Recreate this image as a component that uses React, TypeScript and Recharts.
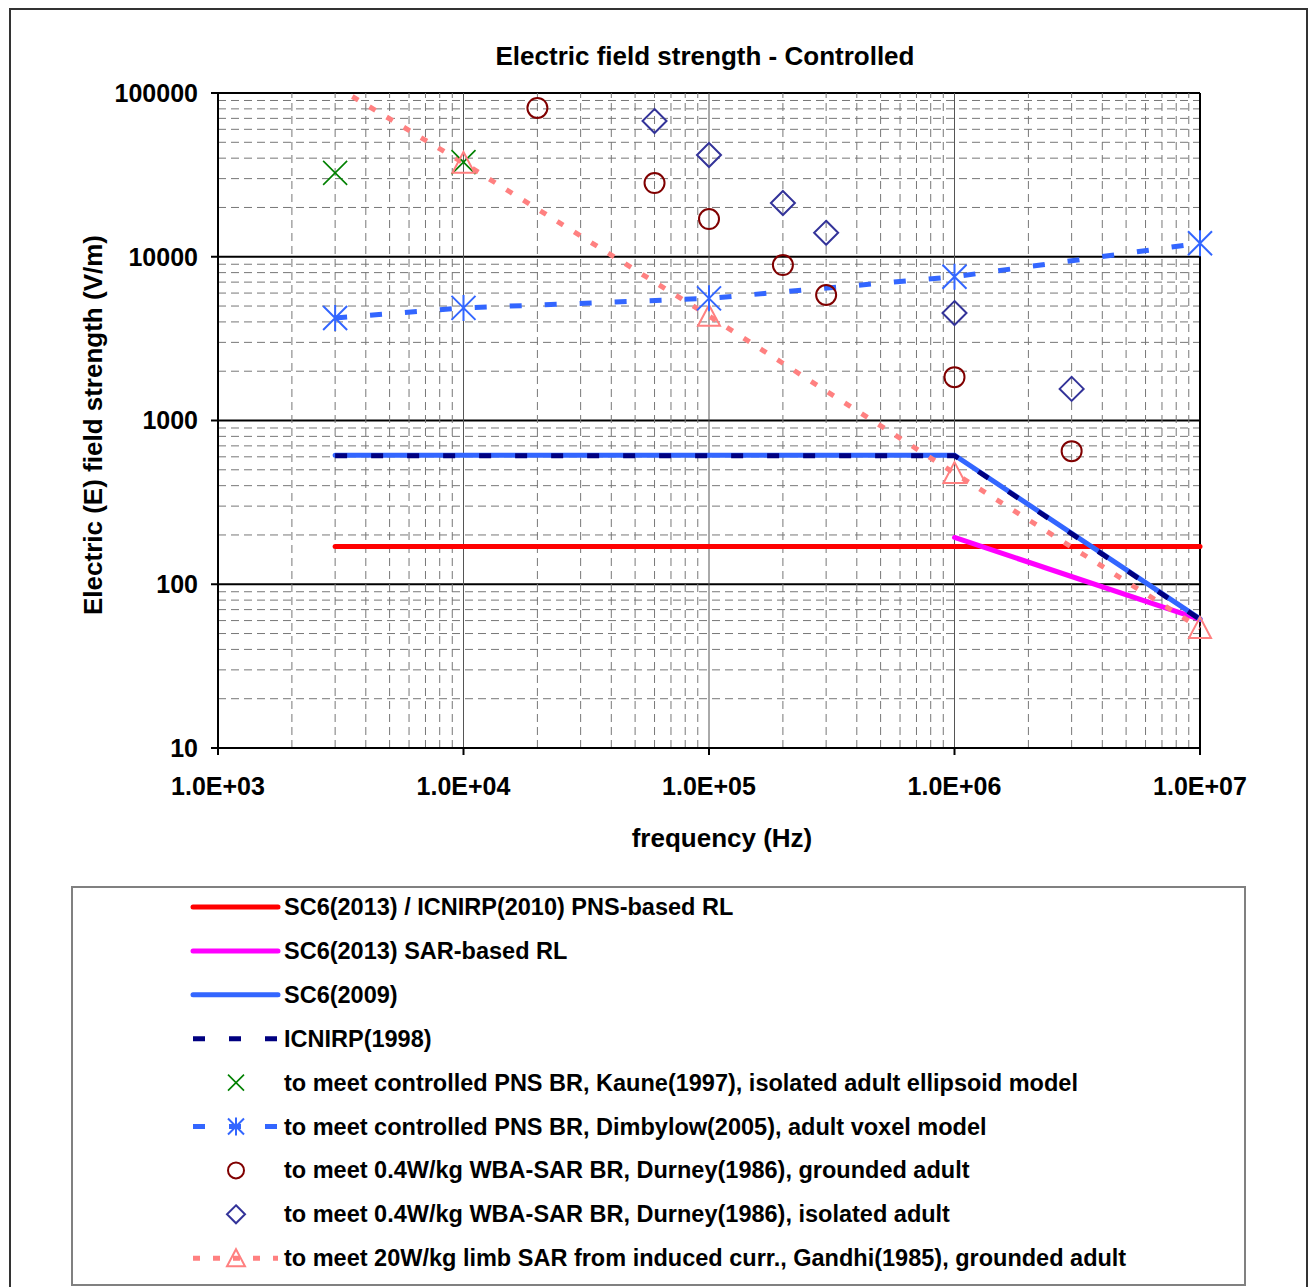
import React from 'react';
import {
  ComposedChart,
  Line,
  Scatter,
  XAxis,
  YAxis,
  CartesianGrid,
  ReferenceLine,
  Legend,
} from 'recharts';

// ---------- data ----------
const pnsFreq = [3000, 1e7];
const pnsE = [170, 170];

const sarFreq = [1e6, 1e7];
const sarE = [193, 61];

const sc6Freq = [3000, 1e6, 1e7];
const sc6E = [614, 614, 61.4];

const icnirpFreq = [3000, 1e6, 1e7];
const icnirpE = [610, 610, 61];

const kauneFreq = [3000, 10000];
const kauneE = [32500, 37800];

const dimbylowFreq = [3000, 1e4, 1e5, 1e6, 1e7];
const dimbylowE = [4230, 4870, 5570, 7550, 12100];

const durneyGroundFreq = [2e4, 6e4, 1e5, 2e5, 3e5, 1e6, 3e6];
const durneyGroundE = [81000, 28200, 17000, 8900, 5840, 1840, 650];

const durneyIsoFreq = [6e4, 1e5, 2e5, 3e5, 1e6, 3e6];
const durneyIsoE = [67400, 41800, 21300, 14000, 4530, 1560];

const gandhiFreq = [3000, 1e4, 1e5, 1e6, 1e7];
const gandhiE = [110000, 37400, 4350, 477, 54];

const xTicks = [1e3, 1e4, 1e5, 1e6, 1e7];
const xTickLabels = ['1.0E+03', '1.0E+04', '1.0E+05', '1.0E+06', '1.0E+07'];
const yTicks = [10, 100, 1000, 10000, 100000];
const yTickLabels = ['10', '100', '1000', '10000', '100000'];

const minorMult = [2, 3, 4, 5, 6, 7, 8, 9];
const xDecades = [1e3, 1e4, 1e5, 1e6];
const yDecades = [10, 100, 1000, 10000];
const xMajorInner = [1e4, 1e5, 1e6];

const legendLabels = [
  'SC6(2013) / ICNIRP(2010) PNS-based RL',
  'SC6(2013) SAR-based RL',
  'SC6(2009)',
  'ICNIRP(1998)',
  'to meet controlled PNS BR, Kaune(1997), isolated adult ellipsoid model',
  'to meet controlled PNS BR, Dimbylow(2005), adult voxel model',
  'to meet 0.4W/kg WBA-SAR BR, Durney(1986), grounded adult',
  'to meet 0.4W/kg WBA-SAR BR, Durney(1986), isolated adult',
  'to meet 20W/kg limb SAR from induced curr., Gandhi(1985), grounded adult',
];

// ---------- helpers ----------
const Y_MIN = 10;
const Y_MAX = 100000;
const zip = (f: number[], e: number[]) => f.map((v, i) => ({ f: v, e: e[i] }));
const xMinor = xDecades.flatMap((d) => minorMult.map((m) => m * d));
const yMinor = yDecades.flatMap((d) => minorMult.map((m) => m * d));
const gandhiData = zip(gandhiFreq, gandhiE);
const gandhiVisible = gandhiData.filter((d) => d.e <= Y_MAX && d.e >= Y_MIN);

const C = {
  red: '#FF0000',
  magenta: '#FF00FF',
  blue: '#3366FF',
  navy: '#000080',
  green: '#008000',
  darkred: '#800000',
  diamond: '#333399',
  pink: '#FF8080',
};

const FONT = '"Liberation Sans", Arial, sans-serif';

// ---------- markers ----------
const XMark = ({ cx, cy, r = 12 }: any) => (
  <path
    d={`M${cx - r},${cy - r}L${cx + r},${cy + r}M${cx - r},${cy + r}L${cx + r},${cy - r}`}
    stroke={C.green}
    strokeWidth={1.6}
    fill="none"
  />
);
const Asterisk = ({ cx, cy, r = 12 }: any) => (
  <path
    d={`M${cx - r},${cy - r}L${cx + r},${cy + r}M${cx - r},${cy + r}L${cx + r},${cy - r}M${cx},${cy - r - 1}L${cx},${cy + r + 1}`}
    stroke={C.blue}
    strokeWidth={2}
    fill="none"
  />
);
const CircleMark = ({ cx, cy, r = 10 }: any) => (
  <circle cx={cx} cy={cy} r={r} stroke={C.darkred} strokeWidth={2} fill="none" />
);
const DiamondMark = ({ cx, cy, r = 12 }: any) => (
  <path
    d={`M${cx},${cy - r}L${cx + r},${cy}L${cx},${cy + r}L${cx - r},${cy}Z`}
    stroke={C.diamond}
    strokeWidth={2}
    fill="none"
  />
);
const TriangleMark = ({ cx, cy, r = 11 }: any) => (
  <path
    d={`M${cx},${cy - r}L${cx + r},${cy + r * 0.9}L${cx - r},${cy + r * 0.9}Z`}
    stroke={C.pink}
    strokeWidth={2}
    fill="none"
  />
);

// ---------- legend ----------
const LegendBox = () => {
  const rowY = (i: number) => 21 + i * 43.9;
  const x1 = 122;
  const x2 = 207;
  const mx = 165;
  return (
    <svg width={1175} height={400} style={{ display: 'block' }}>
      <rect x={1} y={1} width={1173} height={398} fill="#fff" stroke="#808080" strokeWidth={2} />
      <line x1={x1} x2={x2} y1={rowY(0)} y2={rowY(0)} stroke={C.red} strokeWidth={5} strokeLinecap="round" />
      <line x1={x1} x2={x2} y1={rowY(1)} y2={rowY(1)} stroke={C.magenta} strokeWidth={5} strokeLinecap="round" />
      <line x1={x1} x2={x2} y1={rowY(2)} y2={rowY(2)} stroke={C.blue} strokeWidth={5} strokeLinecap="round" />
      <line x1={x1} x2={x2} y1={rowY(3)} y2={rowY(3)} stroke={C.navy} strokeWidth={5} strokeDasharray="12 24" />
      <XMark cx={mx} cy={rowY(4)} r={8} />
      <line x1={x1} x2={x2} y1={rowY(5)} y2={rowY(5)} stroke={C.blue} strokeWidth={5} strokeDasharray="12 24" />
      <Asterisk cx={mx} cy={rowY(5)} r={8} />
      <CircleMark cx={mx} cy={rowY(6)} r={8} />
      <DiamondMark cx={mx} cy={rowY(7)} r={9} />
      <line x1={x1} x2={x2} y1={rowY(8)} y2={rowY(8)} stroke={C.pink} strokeWidth={5} strokeDasharray="7 13" />
      <TriangleMark cx={mx} cy={rowY(8)} r={9} />
      {legendLabels.map((t, i) => (
        <text
          key={t}
          x={213}
          y={rowY(i)}
          dominantBaseline="central"
          fontFamily={FONT}
          fontWeight="bold"
          fontSize={23.5}
          fill="#000"
        >
          {t}
        </text>
      ))}
    </svg>
  );
};

const YTitle = () => (
  <text
    x={93}
    y={425}
    transform="rotate(-90 93 425)"
    textAnchor="middle"
    dominantBaseline="central"
    fontFamily={FONT}
    fontWeight="bold"
    fontSize={26}
    fill="#000"
  >
    Electric (E) field strength (V/m)
  </text>
);
const XTitle = () => (
  <text
    x={722}
    y={838}
    textAnchor="middle"
    dominantBaseline="central"
    fontFamily={FONT}
    fontWeight="bold"
    fontSize={26}
    fill="#000"
  >
    frequency (Hz)
  </text>
);

export default function App() {
  const tickStyle = { fill: '#000', fontSize: 25, fontWeight: 'bold', fontFamily: FONT } as any;
  return (
    <div
      style={{
        position: 'absolute',
        left: 0,
        top: 0,
        width: 1308,
        height: 1287,
        background: '#fff',
        fontFamily: FONT,
        overflow: 'hidden',
      }}
    >
      <div
        style={{
          position: 'absolute',
          left: 9,
          top: 8,
          width: 1299,
          height: 1300,
          border: '2px solid #333',
          boxSizing: 'border-box',
        }}
      />
      <div
        style={{
          position: 'absolute',
          left: 0,
          top: 43,
          width: 1410,
          textAlign: 'center',
          fontSize: 26,
          lineHeight: '26px',
          fontWeight: 'bold',
          fontFamily: FONT,
          color: '#000',
        }}
      >
        Electric field strength - Controlled
      </div>
      <div style={{ position: 'absolute', left: 0, top: 0 }}>
        <ComposedChart
          width={1308}
          height={1287}
          margin={{ top: 93, right: 108, bottom: 479, left: 118 }}
        >
          {xMinor.map((v) => (
            <ReferenceLine
              key={'xm' + v}
              x={v}
              stroke="#777"
              strokeWidth={1}
              strokeDasharray="8 5"
              ifOverflow="visible"
            />
          ))}
          {yMinor.map((v) => (
            <ReferenceLine
              key={'ym' + v}
              y={v}
              stroke="#777"
              strokeWidth={1}
              strokeDasharray="8 5"
              ifOverflow="visible"
            />
          ))}
          {xMajorInner.map((v) => (
            <ReferenceLine key={'xM' + v} x={v} stroke="#555" strokeWidth={1} ifOverflow="visible" />
          ))}
          <ReferenceLine x={1e7} stroke="#000" strokeWidth={2} ifOverflow="visible" />
          <CartesianGrid vertical={false} stroke="#000" strokeWidth={2} />
          <XAxis
            type="number"
            dataKey="f"
            scale="log"
            domain={[1000, 1e7]}
            ticks={xTicks}
            interval={0}
            tickFormatter={(v: number) => xTickLabels[xTicks.indexOf(v)] ?? String(v)}
            tick={tickStyle}
            tickSize={7}
            tickMargin={22}
            axisLine={{ stroke: '#000', strokeWidth: 2 }}
            tickLine={{ stroke: '#000', strokeWidth: 2 }}
            height={60}
            label={<XTitle />}
          />
          <YAxis
            type="number"
            dataKey="e"
            scale="log"
            domain={[Y_MIN, Y_MAX]}
            ticks={yTicks}
            interval={0}
            tickFormatter={(v: number) => yTickLabels[yTicks.indexOf(v)] ?? String(v)}
            tick={tickStyle}
            tickSize={7}
            tickMargin={13}
            axisLine={{ stroke: '#000', strokeWidth: 2 }}
            tickLine={{ stroke: '#000', strokeWidth: 2 }}
            width={100}
            label={<YTitle />}
          />
          <YAxis
            yAxisId="clip"
            hide
            type="number"
            dataKey="e"
            scale="log"
            domain={[Y_MIN, Y_MAX]}
            allowDataOverflow
          />
          <Line
            data={zip(pnsFreq, pnsE)}
            dataKey="e"
            stroke={C.red}
            strokeWidth={5}
            dot={false}
            isAnimationActive={false}
            strokeLinecap="round"
          />
          <Line
            data={zip(sarFreq, sarE)}
            dataKey="e"
            stroke={C.magenta}
            strokeWidth={5}
            dot={false}
            isAnimationActive={false}
            strokeLinecap="round"
          />
          <Line
            data={zip(sc6Freq, sc6E)}
            dataKey="e"
            stroke={C.blue}
            strokeWidth={5}
            dot={false}
            isAnimationActive={false}
            strokeLinecap="round"
          />
          <Line
            data={zip(icnirpFreq, icnirpE)}
            dataKey="e"
            stroke={C.navy}
            strokeWidth={5}
            strokeDasharray="12 24"
            dot={false}
            isAnimationActive={false}
          />
          <Scatter
            data={zip(kauneFreq, kauneE)}
            dataKey="e"
            isAnimationActive={false}
            shape={(p: any) => <XMark cx={p.cx} cy={p.cy} />}
          />
          <Line
            data={zip(dimbylowFreq, dimbylowE)}
            dataKey="e"
            stroke={C.blue}
            strokeWidth={5}
            strokeDasharray="12 23"
            isAnimationActive={false}
            dot={(p: any) => <Asterisk key={'ast' + p.index} cx={p.cx} cy={p.cy} />}
          />
          <Scatter
            data={zip(durneyGroundFreq, durneyGroundE)}
            dataKey="e"
            isAnimationActive={false}
            shape={(p: any) => <CircleMark cx={p.cx} cy={p.cy} />}
          />
          <Scatter
            data={zip(durneyIsoFreq, durneyIsoE)}
            dataKey="e"
            isAnimationActive={false}
            shape={(p: any) => <DiamondMark cx={p.cx} cy={p.cy} />}
          />
          <Line
            yAxisId="clip"
            data={gandhiData}
            dataKey="e"
            stroke={C.pink}
            strokeWidth={5}
            strokeDasharray="7 13"
            isAnimationActive={false}
            dot={false}
          />
          <Scatter
            data={gandhiVisible}
            dataKey="e"
            isAnimationActive={false}
            shape={(p: any) => <TriangleMark cx={p.cx} cy={p.cy} />}
          />
          <Legend
            layout="horizontal"
            verticalAlign="middle"
            align="center"
            wrapperStyle={{ left: 71, top: 886, width: 1175, height: 400 }}
            content={() => <LegendBox />}
          />
        </ComposedChart>
      </div>
    </div>
  );
}
